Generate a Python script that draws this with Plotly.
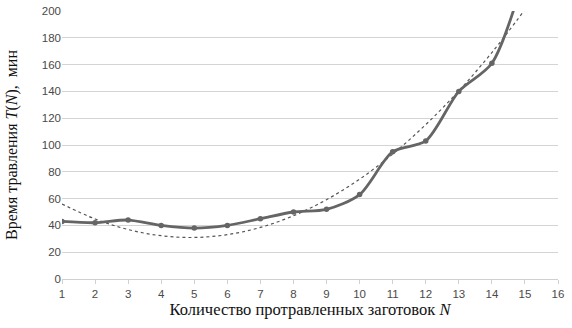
import plotly.graph_objects as go

n_values = list(range(1, 16))
time_values = [43, 42, 44, 40, 38, 40, 45, 50, 52, 63, 95, 103, 140, 161, 228]
trend_values = [56, 44.8, 36.9, 32.3, 31.0, 33.1, 38.5, 47.2, 59.2, 74.5, 93.2, 115.2, 140.4, 169, 201]
x_ticks = list(range(1, 17))
y_ticks = list(range(0, 201, 20))

fig = go.Figure()
fig.add_trace(go.Scatter(
    x=n_values, y=trend_values, mode="lines",
    line=dict(color="#555555", width=1.2, dash="dot", shape="spline", smoothing=1.0),
    hoverinfo="skip", showlegend=False,
))
fig.add_trace(go.Scatter(
    x=n_values, y=time_values, mode="lines+markers",
    line=dict(color="#656565", width=2.8, shape="spline", smoothing=0.8),
    marker=dict(color="#656565", size=5.5),
    showlegend=False,
))

fig.update_layout(
    width=572, height=328,
    margin=dict(l=62, r=14, t=11, b=49, autoexpand=False),
    paper_bgcolor="white", plot_bgcolor="white",
    font=dict(family="Liberation Sans, Arial, sans-serif", color="#595959", size=11),
)
fig.update_xaxes(
    range=[1, 16], tickvals=x_ticks, ticktext=[str(v) for v in x_ticks],
    showgrid=False, zeroline=False, automargin=False,
    showline=True, linecolor="#d0d0d0", linewidth=1,
    ticks="outside", ticklen=4, tickcolor="#d0d0d0",
    tickfont=dict(size=11.5, color="#4a4a4a"),
    title=dict(text="Количество протравленных заготовок <i>N</i>",
               font=dict(family="Liberation Serif, Times New Roman, serif", size=16.5, color="#111111"),
               standoff=2),
)
fig.update_yaxes(
    range=[0, 200], tickvals=y_ticks, automargin=False,
    showgrid=True, gridcolor="#d4d4d4", gridwidth=1,
    zeroline=False, showline=False, ticks="",
    tickfont=dict(size=11.5, color="#4a4a4a"),
    title=dict(text="Время травления <i>T</i>(<i>N</i>),  мин",
               font=dict(family="Liberation Serif, Times New Roman, serif", size=16, color="#111111"),
               standoff=20),
)

# remove the default 8px page margin so the figure sits at the window's corner
fig.write_html("out.html", config={"displayModeBar": False},
               post_script="document.body.style.margin='0';")
